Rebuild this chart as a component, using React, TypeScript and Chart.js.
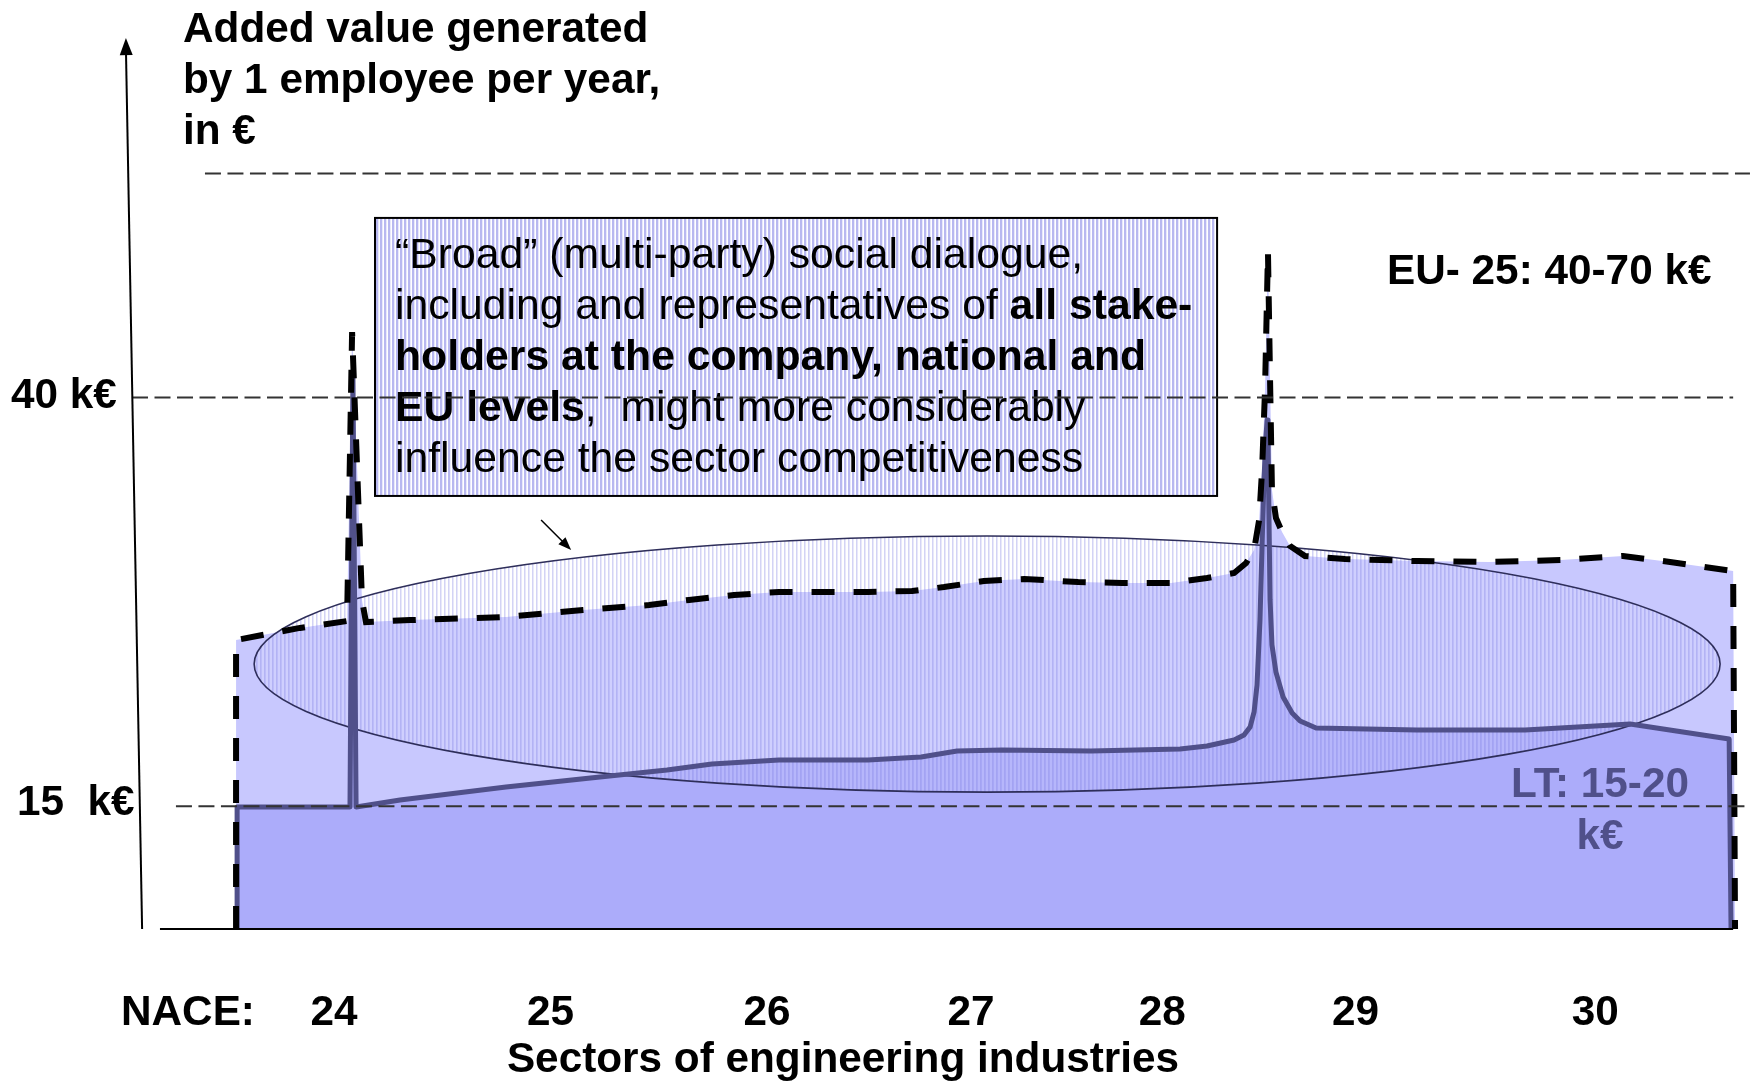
import React, { useEffect, useRef } from "react";
import { Chart, registerables } from "chart.js";

Chart.register(...registerables);

const FONT = '"Liberation Sans", Arial, Helvetica, sans-serif';

// x: position along the NACE sector axis, y: added value in k€ per employee
const euX = [23.534, 23.534, 23.838, 24.062, 24.086, 24.133, 24.152, 24.362, 24.818, 25.185, 25.499, 25.689, 25.903, 26.117, 26.54, 26.75, 26.902, 27.092, 27.283, 27.54, 27.749, 27.982, 28.153, 28.282, 28.339, 28.377, 28.401, 28.415, 28.429, 28.443, 28.453, 28.462, 28.481, 28.51, 28.548, 28.619, 28.81, 29.152, 29.495, 29.837, 30.132, 30.356, 30.656, 30.665];
const euY = [7.5, 25.17, 25.91, 26.33, 44.0, 27.62, 26.27, 26.39, 26.58, 27.01, 27.31, 27.62, 27.92, 28.11, 28.11, 28.17, 28.41, 28.78, 28.9, 28.72, 28.66, 28.66, 28.96, 29.27, 29.88, 30.68, 32.51, 35.57, 40.46, 48.9, 41.07, 34.34, 32.63, 31.78, 30.92, 30.31, 30.12, 30.0, 29.94, 30.06, 30.31, 29.94, 29.39, 7.5];

const ltX = [23.539, 23.539, 24.076, 24.09, 24.105, 24.314, 24.818, 25.265, 25.584, 25.798, 26.117, 26.54, 26.793, 26.964, 27.178, 27.601, 28.025, 28.153, 28.282, 28.329, 28.358, 28.377, 28.391, 28.405, 28.415, 28.424, 28.434, 28.439, 28.443, 28.448, 28.453, 28.462, 28.481, 28.515, 28.558, 28.596, 28.672, 29.152, 29.666, 30.166, 30.637, 30.646];
const ltY = [7.5, 14.96, 14.96, 41.38, 14.96, 15.39, 16.18, 16.79, 17.22, 17.59, 17.83, 17.83, 18.02, 18.38, 18.45, 18.38, 18.51, 18.69, 19.06, 19.36, 19.85, 20.77, 22.42, 26.39, 30.98, 34.96, 37.71, 38.62, 38.01, 32.51, 27.62, 24.87, 23.21, 21.69, 20.71, 20.22, 19.79, 19.67, 19.67, 20.04, 19.12, 7.5];

const naceLabels = ["24", "25", "26", "27", "28", "29", "30"];
const nacePositions = [24, 25.03, 26.06, 27.03, 27.94, 28.86, 30];

const refLevels = [15, 40, 53.7];
const refFrom = [23.248, 23.039, 23.386];
const refTo = [30.736, 30.656, 30.736];

const X_MIN = 22.411;
const X_MAX = 30.779;
const Y_MIN = 7.5;
const Y_MAX = 64;

const ELLIPSE = { cx: 27.107, cy: 23.7, rx: 3.487, ry: 7.83 };
const BOX = { x0: 24.195, x1: 28.201, y0: 50.98, y1: 33.98 };
const SMALL_ARROW = { x0: 24.985, y0: 32.51, x1: 25.128, y1: 30.68 };
const Y_AXIS = { x0: 23.087, y0: 7.5, x1: 23.01, y1: 61.98 };
const X_AXIS = { x0: 23.172, x1: 30.656, y: 7.5 };

const titleLines = ["Added value generated", "by 1 employee per year,", "in €"];
const boxLines: [string, boolean][][] = [
  [["“Broad” (multi-party) social dialogue,", false]],
  [["including and representatives of ", false], ["all stake-", true]],
  [["holders at the company, national and", true]],
  [["EU levels", true], [",  might more considerably", false]],
  [["influence the sector competitiveness", false]],
];

const LT_COLOR = "#50508a";

function makePattern(ctx: CanvasRenderingContext2D, strong: boolean) {
  const c = document.createElement("canvas");
  c.width = 4;
  c.height = 1;
  const p = c.getContext("2d")!;
  if (strong) {
    p.fillStyle = "rgba(160,160,235,0.75)";
    p.fillRect(0, 0, 2, 1);
    p.fillStyle = "rgba(190,190,245,0.35)";
    p.fillRect(2, 0, 1, 1);
  } else {
    p.fillStyle = "rgba(150,150,230,0.42)";
    p.fillRect(0, 0, 1, 1);
    p.fillStyle = "rgba(150,150,230,0.22)";
    p.fillRect(1, 0, 1, 1);
    p.fillStyle = "rgba(255,255,255,0.12)";
    p.fillRect(2, 0, 2, 1);
  }
  return ctx.createPattern(c, "repeat");
}

function arrowHead(ctx: CanvasRenderingContext2D, x0: number, y0: number, x1: number, y1: number, len: number, w: number) {
  const a = Math.atan2(y1 - y0, x1 - x0);
  const bx = x1 - Math.cos(a) * len;
  const by = y1 - Math.sin(a) * len;
  const nx = -Math.sin(a) * (w / 2);
  const ny = Math.cos(a) * (w / 2);
  ctx.beginPath();
  ctx.moveTo(x1, y1);
  ctx.lineTo(bx + nx, by + ny);
  ctx.lineTo(bx - nx, by - ny);
  ctx.closePath();
  ctx.fill();
}

const overlay = {
  id: "overlay",
  beforeDatasetDraw(chart: any, args: any) {
    if (args.index !== 2) return;
    const ctx: CanvasRenderingContext2D = chart.ctx;
    const xs = chart.scales.x;
    const ys = chart.scales.y;
    const cx = xs.getPixelForValue(ELLIPSE.cx);
    const cy = ys.getPixelForValue(ELLIPSE.cy);
    const rx = xs.getPixelForValue(ELLIPSE.cx + ELLIPSE.rx) - cx;
    const ry = cy - ys.getPixelForValue(ELLIPSE.cy + ELLIPSE.ry);
    ctx.save();
    ctx.beginPath();
    ctx.ellipse(cx, cy, rx, ry, 0, 0, Math.PI * 2);
    ctx.fillStyle = makePattern(ctx, false) as any;
    ctx.fill();
    ctx.lineWidth = 1.6;
    ctx.strokeStyle = "#2e2e5a";
    ctx.stroke();
    ctx.restore();
  },
  afterDatasetsDraw(chart: any) {
    const ctx: CanvasRenderingContext2D = chart.ctx;
    const xs = chart.scales.x;
    const ys = chart.scales.y;
    const px = (v: number) => xs.getPixelForValue(v);
    const py = (v: number) => ys.getPixelForValue(v);
    ctx.save();

    // text box
    const bx0 = px(BOX.x0), bx1 = px(BOX.x1), by0 = py(BOX.y0), by1 = py(BOX.y1);
    ctx.fillStyle = "#ffffff";
    ctx.fillRect(bx0, by0, bx1 - bx0, by1 - by0);
    ctx.fillStyle = makePattern(ctx, true) as any;
    ctx.fillRect(bx0, by0, bx1 - bx0, by1 - by0);
    ctx.lineWidth = 2;
    ctx.strokeStyle = "#000";
    ctx.strokeRect(bx0, by0, bx1 - bx0, by1 - by0);

    ctx.fillStyle = "#000";
    ctx.textBaseline = "alphabetic";
    ctx.textAlign = "left";
    boxLines.forEach((runs, i) => {
      let x = bx0 + 20;
      const y = by0 + 50 + i * 51;
      for (const [t, b] of runs) {
        ctx.font = `${b ? "bold " : ""}42.7px ${FONT}`;
        ctx.fillText(t, x, y);
        x += ctx.measureText(t).width;
      }
    });

    // dashed reference lines
    ctx.lineWidth = 2;
    ctx.strokeStyle = "#333";
    ctx.setLineDash([16, 6.5]);
    refLevels.forEach((lv, i) => {
      ctx.beginPath();
      ctx.moveTo(px(refFrom[i]), py(lv));
      ctx.lineTo(px(refTo[i]), py(lv));
      ctx.stroke();
    });
    ctx.setLineDash([]);

    // axes
    ctx.strokeStyle = "#000";
    ctx.fillStyle = "#000";
    ctx.lineWidth = 2;
    const ax0 = px(Y_AXIS.x0), ay0 = py(Y_AXIS.y0), ax1 = px(Y_AXIS.x1), ay1 = py(Y_AXIS.y1);
    ctx.beginPath();
    ctx.moveTo(ax0, ay0);
    ctx.lineTo(ax1, ay1 + 10);
    ctx.stroke();
    arrowHead(ctx, ax0, ay0, ax1, ay1, 17, 13);
    ctx.beginPath();
    ctx.moveTo(px(X_AXIS.x0), py(X_AXIS.y));
    ctx.lineTo(px(X_AXIS.x1), py(X_AXIS.y));
    ctx.stroke();

    // small arrow to ellipse
    const s0x = px(SMALL_ARROW.x0), s0y = py(SMALL_ARROW.y0), s1x = px(SMALL_ARROW.x1), s1y = py(SMALL_ARROW.y1);
    ctx.lineWidth = 1.5;
    ctx.beginPath();
    ctx.moveTo(s0x, s0y);
    ctx.lineTo(s1x - 5, s1y - 5);
    ctx.stroke();
    arrowHead(ctx, s0x, s0y, s1x, s1y, 13, 10);

    // labels
    ctx.font = `bold 42.3px ${FONT}`;
    ctx.textAlign = "left";
    titleLines.forEach((t, i) => ctx.fillText(t, 183, 42 + i * 51));
    ctx.fillText("40 k€", 11, 408);
    ctx.fillText("15  k€", 17, 815);
    ctx.fillText("EU- 25: 40-70 k€", 1387, 284);
    ctx.fillText("NACE:", 121, 1025);
    ctx.textAlign = "center";
    naceLabels.forEach((l, i) => ctx.fillText(l, px(nacePositions[i]), 1025));
    ctx.fillText("Sectors of engineering industries", 843, 1072);
    ctx.fillStyle = LT_COLOR;
    ctx.fillText("LT: 15-20", 1600, 797);
    ctx.fillText("k€", 1600, 849);
    ctx.restore();
  },
};

export default function App() {
  const ref = useRef<HTMLCanvasElement>(null);
  useEffect(() => {
    document.body.style.margin = "0";
    const euPts = euX.map((x, i) => ({ x, y: euY[i] }));
    const ltPts = ltX.map((x, i) => ({ x, y: ltY[i] }));
    const chart = new Chart(ref.current as HTMLCanvasElement, {
      type: "line",
      data: {
        datasets: [
          { data: euPts, fill: "start", backgroundColor: "#c8c8fe", borderColor: "transparent", borderWidth: 0, pointRadius: 0, order: 4, tension: 0 },
          { data: ltPts, fill: "start", backgroundColor: "#acacfa", borderColor: "transparent", borderWidth: 0, pointRadius: 0, order: 3, tension: 0 },
          { data: ltPts, fill: false, borderColor: LT_COLOR, borderWidth: 5, pointRadius: 0, order: 2, tension: 0, borderJoinStyle: "round", borderCapStyle: "round" },
          { data: euPts, fill: false, borderColor: "#000", borderWidth: 6, borderDash: [23, 19], pointRadius: 0, order: 1, tension: 0 },
        ] as any,
      },
      options: {
        responsive: false,
        maintainAspectRatio: false,
        animation: false,
        devicePixelRatio: 1,
        events: [],
        layout: { padding: { top: 5, bottom: 155, left: 0, right: 0 } },
        scales: {
          x: { type: "linear", min: X_MIN, max: X_MAX, display: false },
          y: { type: "linear", min: Y_MIN, max: Y_MAX, display: false },
        },
        plugins: { legend: { display: false }, tooltip: { enabled: false } },
      },
      plugins: [overlay as any],
    });
    return () => chart.destroy();
  }, []);
  return (
    <div style={{ position: "fixed", left: 0, top: 0, width: 1759, height: 1084, background: "#fff" }}>
      <canvas ref={ref} width={1759} height={1084} style={{ display: "block", width: 1759, height: 1084 }} />
    </div>
  );
}
